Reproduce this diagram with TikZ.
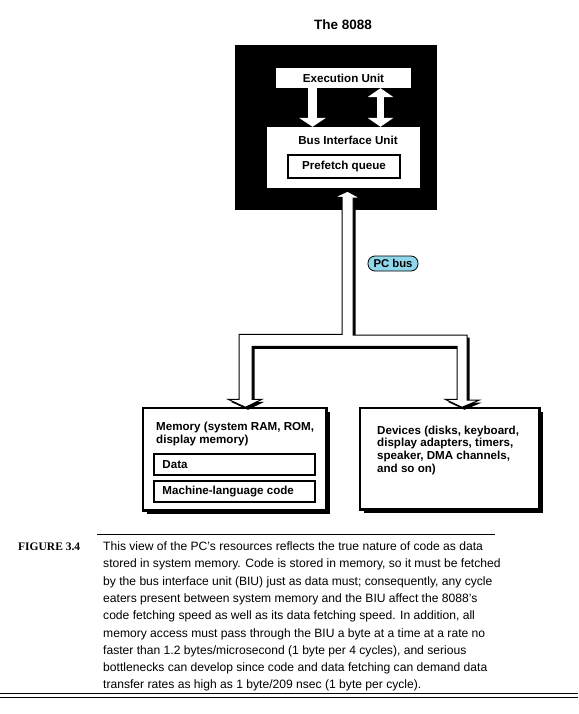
\documentclass[tikz,border=0pt]{standalone}
\usepackage{fontspec}
\setmainfont{Liberation Sans}
\newfontfamily\figfont{Liberation Serif}
\usetikzlibrary{arrows.meta,calc,shadows}
\definecolor{busblue}{RGB}{145,214,234}

\begin{document}
\begin{tikzpicture}[x=1pt,y=-1pt,
  lbl/.style={font=\bfseries\fontsize{11.6}{12.8}\selectfont,inner sep=0pt},
  unit/.style={lbl,fill=white},
  framed/.style={lbl,draw,line width=1.5pt,fill=white},
  shadowed/.style={framed,drop shadow={shadow xshift=4pt,shadow yshift=-4pt,opacity=1,fill=black}},
  wharrow/.style={white,line width=9pt,-{Triangle[width=27pt,length=9pt,line width=0pt]}},
  busframe/.style={fill=white,draw=black,line width=1pt,drop shadow={shadow xshift=2.5pt,shadow yshift=-2.5pt,opacity=1,fill=black}},
  pill/.style={lbl,font=\bfseries\fontsize{11.3}{13}\selectfont,draw,fill=busblue,line width=.8pt,rounded corners=7pt,minimum width=50pt,minimum height=15pt},
  captxt/.style={font=\fontsize{12.1}{14}\selectfont,inner sep=0pt,anchor=base west}]
\useasboundingbox (0,0) rectangle (578,714);
% the 8088
\node[font=\bfseries\fontsize{13.5}{16}\selectfont,inner sep=0pt] (title) at (343,25) {The 8088};
\node[fill=black,minimum width=202pt,minimum height=165pt,inner sep=0pt] (cpu) at (336,127.5) {};
\node[unit,minimum width=135pt,minimum height=20pt] (eu) at (343.5,78) {Execution Unit};
\node[unit,minimum width=153pt,minimum height=61pt] (biu) at (343.5,157.5) {};
\node[lbl] (biutxt) at (348,140.5) {Bus Interface Unit};
\node[framed,minimum width=112pt,minimum height=23pt] (pq) at (344,166.5) {Prefetch queue};
\coordinate (da) at (312.5,0);
\coordinate (ua) at (380.5,0);
\draw[wharrow] (da |- eu.south) -- (da |- biu.north);
\draw[wharrow,line width=7pt,{Triangle[width=26pt,length=9pt,line width=0pt]}-{Triangle[width=26pt,length=9pt,line width=0pt]}] (ua |- eu.south) -- (ua |- biu.north);
% memory and devices
\node[shadowed,minimum width=183pt,minimum height=102pt] (mem) at (234.5,459) {};
\node[shadowed,minimum width=179pt,minimum height=101pt] (dev) at (449.5,458.5) {};
% PC bus
\coordinate (bus) at (347.5,0);
\coordinate (lb) at (245.5,0);
\coordinate (rb) at (462,0);
\filldraw[busframe] ($(bus |- biu.south)+(0,3)$) -- ++(13,7) -- ++(-7.5,0) -- ++(0,137) -- ++(114,0)
  -- ++(0,65) -- ++(12,0) -- (rb |- dev.north) -- ++(-17,-8) -- ++(12,0) -- ++(0,-53)
  -- ++(-205,0) -- ++(0,53) -- ++(10,0) -- (lb |- mem.north) -- ++(-17.5,-8) -- ++(11,0)
  -- ++(0,-65) -- ++(103,0) -- ++(0,-137) -- ++(-7.5,0) -- cycle;
\node[pill] (pcbus) at (393,263.5) {PC bus};
\draw[line width=1.5pt] (mem.north west) rectangle (mem.south east) (dev.north west) rectangle (dev.south east);
\node[lbl,align=left,anchor=north west] (memtxt) at (156,422) {Memory (system RAM, ROM,\\display memory)};
\node[framed,minimum width=161pt,minimum height=21pt] (data) at (234.5,464.5) {};
\node[lbl,anchor=west] (datatxt) at ([xshift=9pt]data.west) {Data};
\node[framed,minimum width=161pt,minimum height=21pt] (code) at (234.5,491.5) {};
\node[lbl,anchor=west] (codetxt) at ([xshift=9pt]code.west) {Machine-language code};
\node[lbl,align=left,anchor=north west] (devtxt) at (377,425.5) {Devices (disks, keyboard,\\display adapters, timers,\\speaker, DMA channels,\\and so on)};
% caption
\draw[line width=.8pt] (97,534) -- (495,534);
\node[font=\figfont\bfseries\fontsize{11.5}{14}\selectfont,anchor=base west,inner sep=0pt] (fig) at (18,550.5) {FIGURE 3.4};
\foreach \t [count=\i from 0] in {
  {This view of the PC's resources reflects the true nature of code as data},
  {stored in system memory. Code is stored in memory, so it must be fetched},
  {by the bus interface unit (BIU) just as data must; consequently, any cycle},
  {eaters present between system memory and the BIU affect the 8088's},
  {code fetching speed as well as its data fetching speed. In addition, all},
  {memory access must pass through the BIU a byte at a time at a rate no},
  {faster than 1.2 bytes/microsecond (1 byte per 4 cycles), and serious},
  {bottlenecks can develop since code and data fetching can demand data},
  {transfer rates as high as 1 byte/209 nsec (1 byte per cycle).}}
  \node[captxt] (cap\i) at (103,{550.5+17.3*\i}) {\t};
\draw[line width=1pt] (0,693.5) -- (578,693.5) (0,697.5) -- (578,697.5);
\end{tikzpicture}
\end{document}
